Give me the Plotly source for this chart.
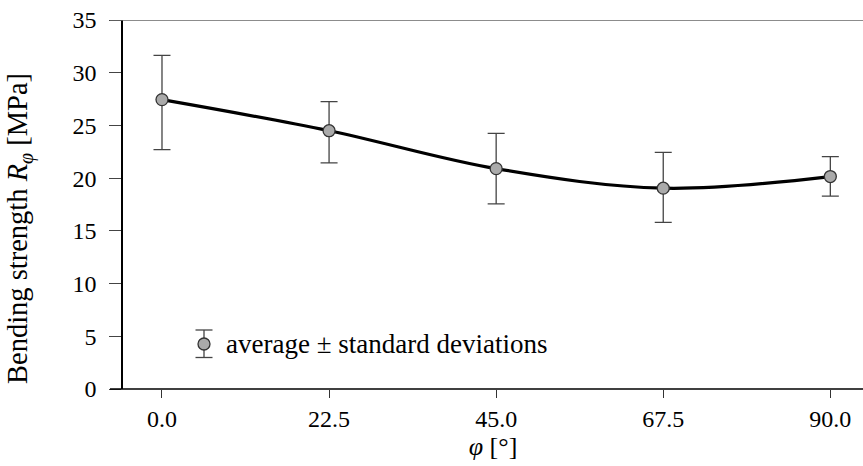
import plotly.graph_objects as go

angles = [0.0, 22.5, 45.0, 67.5, 90.0]
strength = [27.45, 24.5, 20.9, 19.05, 20.15]
err_plus = [4.2, 2.75, 3.35, 3.4, 1.9]
err_minus = [4.75, 3.05, 3.35, 3.25, 1.85]
x_ticks = [0.0, 22.5, 45.0, 67.5, 90.0]
x_ticklabels = ["0.0", "22.5", "45.0", "67.5", "90.0"]
y_ticks = [0, 5, 10, 15, 20, 25, 30, 35]
legend_label = "average ± standard deviations"
y_title = "Bending strength <i>R</i><sub><i>φ</i></sub> [MPa]"
x_title = "<i>φ</i> [°]"

FONT = "Liberation Serif"
W, H = 863, 466
ml, mr, mt, mb = 123, 0, 20, 77
pw = W - ml - mr
ph = H - mt - mb


def px_x(px):
    return (px - ml) / pw


def px_y(py):
    return (H - mb - py) / ph


fig = go.Figure()
fig.add_trace(go.Scatter(
    x=angles, y=strength, mode="lines", line=dict(color="black", width=3.2, shape="spline"),
    showlegend=False, hoverinfo="skip"))
fig.add_trace(go.Scatter(
    x=angles, y=strength, mode="markers", name=legend_label, showlegend=False,
    marker=dict(size=12, color="#aaaaaa", line=dict(color="#333333", width=1.3)),
    error_y=dict(type="data", symmetric=False, array=err_plus, arrayminus=err_minus,
                 color="#444444", thickness=1.3, width=8.5)))

fig.update_layout(
    width=W, height=H, margin=dict(l=ml, r=mr, t=mt, b=mb),
    plot_bgcolor="white", paper_bgcolor="white",
    font=dict(family=FONT, size=24, color="black"),
    showlegend=False,
    xaxis=dict(range=[-5.25, 94.4], tickvals=x_ticks, ticktext=x_ticklabels,
               ticks="outside", ticklen=8, tickcolor="#333333", tickwidth=1,
               showgrid=False, zeroline=False, showline=False,
               title=dict(text=x_title, font=dict(size=26), standoff=4)),
    yaxis=dict(range=[0, 35], tickvals=y_ticks, ticks="outside", ticklen=12,
               tickcolor="#444444", tickwidth=1, showgrid=False, zeroline=False,
               showline=True, linecolor="black", linewidth=1.5, ticklabelstandoff=8),
)
# y-axis title
fig.add_annotation(text=y_title, textangle=-90, xref="paper", yref="paper",
                   x=px_x(20), y=px_y(229), xanchor="center", yanchor="middle",
                   showarrow=False, font=dict(size=28.5))
# bottom axis line (extends left past the y axis) and top border line
fig.add_shape(type="line", xref="paper", yref="paper", x0=px_x(110), x1=1, y0=0, y1=0,
              line=dict(color="black", width=1.5))
fig.add_shape(type="line", xref="paper", yref="y", x0=px_x(110), x1=1, y0=35, y1=35,
              line=dict(color="#666666", width=1.5))

# legend glyph (marker with error bar) and label
lx, ly = 204, 344
fig.add_shape(type="line", xref="paper", yref="paper", x0=px_x(lx), x1=px_x(lx),
              y0=px_y(330), y1=px_y(357.5), line=dict(color="#444444", width=1.3))
for cy in (330, 357.5):
    fig.add_shape(type="line", xref="paper", yref="paper", x0=px_x(lx - 8.5), x1=px_x(lx + 8.5),
                  y0=px_y(cy), y1=px_y(cy), line=dict(color="#444444", width=1.3))
fig.add_shape(type="circle", xref="paper", yref="paper", x0=px_x(lx - 6), x1=px_x(lx + 6),
              y0=px_y(ly + 6), y1=px_y(ly - 6), fillcolor="#aaaaaa",
              line=dict(color="#333333", width=1.3))
fig.add_annotation(text=legend_label, xref="paper", yref="paper", x=px_x(224), y=px_y(344),
                   xanchor="left", yanchor="middle", showarrow=False, font=dict(size=27))

fig.write_html("out.html", config={"displayModeBar": False},
               post_script="document.body.style.margin='0';")
